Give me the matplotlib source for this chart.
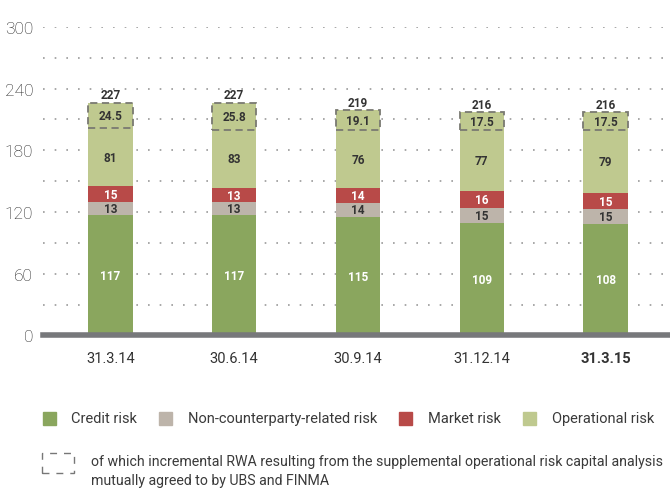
import matplotlib.pyplot as plt
from matplotlib.patches import Rectangle
import numpy as np

plt.rcParams['font.family'] = ['Roboto', 'DejaVu Sans']

quarters = ['31.3.14', '30.6.14', '30.9.14', '31.12.14', '31.3.15']
credit = [117, 117, 115, 109, 108]
noncp = [13, 13, 14, 15, 15]
market = [15, 13, 14, 16, 15]
operational = [81, 83, 76, 77, 79]
incremental = [24.5, 25.8, 19.1, 17.5, 17.5]
totals = [227, 227, 219, 216, 216]

c_credit = '#8aa65e'
c_noncp = '#bdb4aa'
c_market = '#b84a48'
c_oper = '#bfc98f'
c_text = '#333333'

fig = plt.figure(figsize=(6.7, 4.89), dpi=100)
ax = fig.add_axes([0.064, 0.312, 0.936, 0.631])

x = np.arange(len(quarters))
w = 0.36

b1 = np.array(credit)
b2 = b1 + np.array(noncp)
b3 = b2 + np.array(market)
b4 = b3 + np.array(operational)

ax.bar(x, credit, w, color=c_credit, zorder=3)
ax.bar(x, noncp, w, bottom=b1, color=c_noncp, zorder=3)
ax.bar(x, market, w, bottom=b2, color=c_market, zorder=3)
ax.bar(x, operational, w, bottom=b3, color=c_oper, zorder=3)

for i in range(len(x)):
    top = b4[i]
    ax.add_patch(Rectangle((x[i] - w / 2, top - incremental[i]), w, incremental[i],
                           fill=False, edgecolor='#7a7a72', lw=1.3, ls=(0, (4, 2.5)), zorder=4))
    kw = dict(ha='center', va='center', fontsize=8.5, fontweight='bold', zorder=5)
    ax.text(x[i], credit[i] / 2, str(credit[i]), color='white', **kw)
    ax.text(x[i], b1[i] + noncp[i] / 2, str(noncp[i]), color=c_text, **kw)
    ax.text(x[i], b2[i] + market[i] / 2, str(market[i]), color='white', **kw)
    ax.text(x[i], (b3[i] + top - incremental[i]) / 2, str(operational[i]), color=c_text, **kw)
    ax.text(x[i], top - incremental[i] / 2, f'{incremental[i]:.1f}', color=c_text, **kw)
    ax.text(x[i], top + 1.5, str(totals[i]), color=c_text, ha='center', va='bottom',
            fontsize=8.5, fontweight='bold', zorder=5)

ax.set_xlim(-0.545, 4.52)
ax.set_ylim(0, 300)
ax.set_yticks(np.arange(0, 301, 60))
ax.set_yticks(np.arange(30, 301, 60), minor=True)
ax.tick_params(axis='y', which='both', length=0, labelsize=12.5, labelcolor='#222222', pad=7)
for t in ax.get_yticklabels():
    t.set_fontweight('light')
ax.grid(axis='y', which='both', color='#9a9a9a', ls=(0, (1, 6)), lw=1.2, zorder=0)
ax.set_xticks(x)
ax.set_xticklabels(quarters)
ax.tick_params(axis='x', length=0, labelsize=10.5, labelcolor=c_text, pad=11)
ax.get_xticklabels()[-1].set_fontweight('bold')
for s in ax.spines.values():
    s.set_visible(False)
ax.axhline(0, color='#77787b', lw=4, zorder=6, clip_on=False)

# legend
W, H = 670, 489
def fx(px):
    return px / W
def fy(py):
    return 1 - py / H

legend_items = [('Credit risk', c_credit, 43, 71), ('Non-counterparty-related risk', c_noncp, 159, 188),
                ('Market risk', c_market, 399, 428), ('Operational risk', c_oper, 523, 552)]
for label, col, sx, tx in legend_items:
    fig.patches.append(Rectangle((fx(sx), fy(426)), fx(13), 13 / H, color=col,
                                 transform=fig.transFigure, figure=fig))
    fig.text(fx(tx), fy(419), label, fontsize=10.5, color='#3a3a3a', va='center')

fig.patches.append(Rectangle((fx(42), fy(474)), fx(32), 20 / H, fill=False, edgecolor='#777777',
                             lw=1, ls=(0, (5, 5)), transform=fig.transFigure, figure=fig))
fig.text(fx(91), fy(462), 'of which incremental RWA resulting from the supplemental operational risk capital analysis',
         fontsize=10.15, color='#3a3a3a', va='center')
fig.text(fx(91), fy(481), 'mutually agreed to by UBS and FINMA', fontsize=10.15, color='#3a3a3a', va='center')

fig.savefig('out.png', dpi=100)
